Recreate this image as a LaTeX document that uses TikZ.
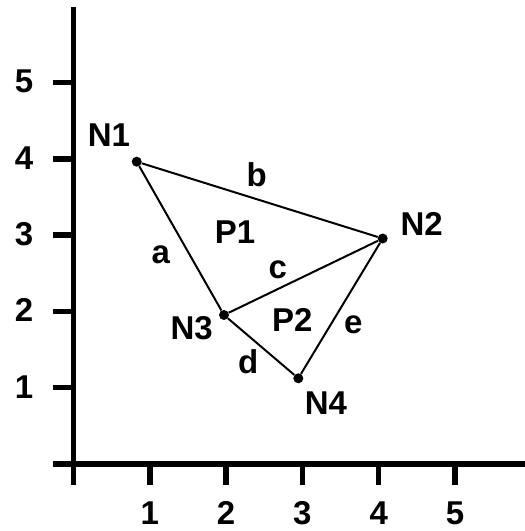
\documentclass[tikz,border=0pt]{standalone}
\usepackage{fontspec}
\setmainfont{Liberation Sans}
\begin{document}
\begin{tikzpicture}[x=1pt,y=-1pt,
  lbl/.style={font=\fontsize{33}{38}\selectfont\bfseries, inner sep=0pt},
  dot/.style={circle, fill=black, inner sep=0pt, minimum size=10pt},
  axisline/.style={line width=5.5pt},
  ticksty/.style={line width=5.5pt},
  edgeline/.style={line width=2pt}]
\useasboundingbox (0,0) rectangle (525,531);
% axes
\coordinate (ytop) at (73.5,7);
\coordinate (ybot) at (73.5,485);
\coordinate (xleft) at (53,464);
\coordinate (xright) at (525,464);
\draw[axisline] (ytop) -- (ybot);
\draw[axisline] (xleft) -- (xright);
\foreach \i in {1,...,5} {
  \coordinate (yt\i) at (73.5,{464-76.3*\i});
  \coordinate (yt\i l) at (53,{464-76.3*\i});
  \draw[ticksty] (yt\i l) -- (yt\i);
  \node[lbl] (ylab\i) at (24,{463-76.3*\i}) {\i};
  \coordinate (xt\i) at ({73.5+76.3*\i},464);
  \coordinate (xt\i b) at ({73.5+76.3*\i},485);
  \draw[ticksty] (xt\i) -- (xt\i b);
  \node[lbl] (xlab\i) at ({73.5+76.3*\i},513) {\i};
}
% nodes
\node[dot] (n1) at (136.7,161.7) {};
\node[dot] (n2) at (382.7,238.5) {};
\node[dot] (n3) at (224,315) {};
\node[dot] (n4) at (298.3,378.3) {};
% edges
\draw[edgeline] (n1) -- (n3);
\draw[edgeline] (n1) -- (n2);
\draw[edgeline] (n3) -- (n2);
\draw[edgeline] (n3) -- (n4);
\draw[edgeline] (n2) -- (n4);
% labels
\node[lbl] (ln1) at (109,135) {N1};
\node[lbl] (ln2) at (421.7,224) {N2};
\node[lbl] (ln3) at (191.7,328.3) {N3};
\node[lbl] (ln4) at (326,403.3) {N4};
\node[lbl] (la) at (160.7,255) {a};
\node[lbl] (lb) at (256.7,175) {b};
\node[lbl] (lc) at (277.7,270) {c};
\node[lbl] (ld) at (248.3,361.7) {d};
\node[lbl] (le) at (353.3,325) {e};
\node[lbl] (lp1) at (235,231.7) {P1};
\node[lbl] (lp2) at (292.3,320) {P2};
\end{tikzpicture}
\end{document}
